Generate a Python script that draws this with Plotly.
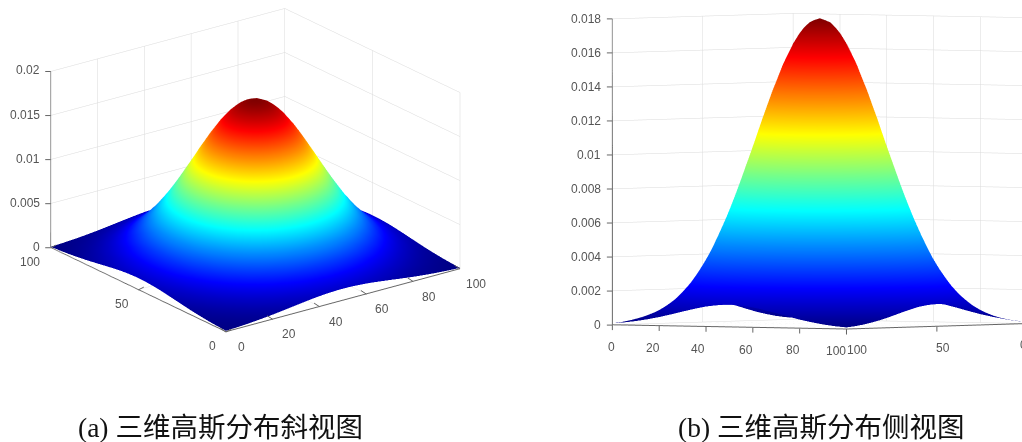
import plotly.graph_objects as go

# grid positions along both axes (finer around the peak)
axis_pos = [0, 5, 10, 15, 20, 25, 30, 35, 37.5, 40, 42.5, 45, 47.5, 50, 52.5, 55, 57.5, 60, 62.5, 65,
            70, 75, 80, 85, 90, 95, 100]

# one quadrant of the symmetric surface, in units of 0.00001;
# row/column 0 is the peak at (50, 50), the last is the rim
z_quadrant = [
 [1800,1788,1753,1697,1620,1527,1420,1181,932,698,496,334,214,130],
 [1788,1776,1742,1685,1610,1517,1411,1174,926,693,493,332,212,129],
 [1753,1742,1708,1652,1578,1487,1383,1151,908,680,483,325,208,126],
 [1697,1685,1652,1599,1527,1439,1339,1114,879,658,467,315,201,122],
 [1620,1610,1578,1527,1458,1374,1278,1063,839,628,446,301,192,117],
 [1527,1517,1487,1439,1374,1295,1205,1002,791,592,421,283,181,110],
 [1420,1411,1383,1339,1278,1205,1121,932,736,551,391,264,169,102],
 [1181,1174,1151,1114,1063,1002,932,775,612,458,325,219,140,85],
 [932,926,908,879,839,791,736,612,483,361,257,173,111,67],
 [698,693,680,658,628,592,551,458,361,271,192,130,83,50],
 [496,493,483,467,446,421,391,325,257,192,137,92,59,36],
 [334,332,325,315,301,283,264,219,173,130,92,62,40,24],
 [214,212,208,201,192,181,169,140,111,83,59,40,25,15],
 [130,129,126,122,117,110,102,85,67,50,36,24,15,9],
]
half_rows = [row[::-1] + row[1:] for row in z_quadrant]
z_values = [[v * 1e-5 for v in row] for row in half_rows[::-1] + half_rows[1:]]

left_x_ticks = [0, 20, 40, 60, 80, 100]
left_y_ticks = [0, 50, 100]
left_z_ticks = [0, 0.005, 0.01, 0.015, 0.02]
left_z_text = ["0", "0.005", "0.01", "0.015", "0.02"]
right_z_ticks = [0, 0.002, 0.004, 0.006, 0.008, 0.01, 0.012, 0.014, 0.016, 0.018]
right_z_text = ["0", "0.002", "0.004", "0.006", "0.008", "0.01", "0.012", "0.014", "0.016", "0.018"]
captions = ["(a) 三维高斯分布斜视图", "(b) 三维高斯分布侧视图"]

jet = [[0, "rgb(0,0,128)"], [0.125, "rgb(0,0,255)"], [0.375, "rgb(0,255,255)"],
       [0.625, "rgb(255,255,0)"], [0.875, "rgb(255,0,0)"], [1, "rgb(128,0,0)"]]

TICK = "#666666"
LABEL = dict(family="Liberation Sans", size=12, color="#555555")
W = 1040  # the page offsets the plot, so the canvas runs past the window's right edge


def surface(scene):
    return go.Surface(x=axis_pos, y=axis_pos, z=z_values, scene=scene, colorscale=jet,
                      cmin=0, cmax=0.018, showscale=False,
                      lighting=dict(ambient=1, diffuse=0, specular=0, roughness=1, fresnel=0),
                      hoverinfo="skip")


def axis(vals, rng):
    return dict(range=rng, tickmode="array", tickvals=vals, showticklabels=False,
                title=dict(text=""), showbackground=False, showgrid=True, gridcolor="#dadada", gridwidth=1,
                zeroline=False, showline=True, linecolor=TICK, linewidth=2, ticks="", showspikes=False)


def tick(x, y, z, text, dx, dy, tx, ty, anchor="center"):
    """A tick mark (tail offset tx, ty px) and its label (offset dx, dy px) at a scene point."""
    return [
        dict(x=x, y=y, z=z, text=" ", showarrow=True, arrowhead=0, arrowwidth=1, arrowcolor=TICK,
             standoff=0, ax=tx, ay=ty, font=dict(size=1), borderpad=0),
        dict(x=x, y=y, z=z, text=text, showarrow=False, xshift=dx, yshift=dy, xanchor=anchor,
             yanchor="middle", font=LABEL),
    ]


left_notes = []
for v in left_x_ticks:
    left_notes += tick(v, 0, 0, str(v), 16, -15, -6, -4)
for v, dx in zip(left_y_ticks, (-13, -16, -21)):
    left_notes += tick(0, v, 0, str(v), dx, -14, 6, -3)
for v, t in zip(left_z_ticks, left_z_text):
    left_notes += tick(0, 100, v, t, -9, 1, -6, 0, "right")

right_notes = []
for v, dx in zip(left_x_ticks, (-1, -6, -8, -7, -7, -10)):
    right_notes += tick(100, v, 0, str(v), dx, -22, 0, 6)
for v, dx in zip(left_y_ticks, (-4, 6, 11)):
    right_notes += tick(v, 100, 0, str(v), dx, -21, 0, 6)
for v, t in zip(right_z_ticks, right_z_text):
    right_notes += tick(100, 0, v, t, -9, 0, -6, 0, "right")

fig = go.Figure([surface("scene"), surface("scene2")])
fig.update_layout(
    width=W, height=442, margin=dict(l=0, r=0, t=0, b=0), paper_bgcolor="white", showlegend=False,
    scene=dict(
        domain=dict(x=[0, 511 / W], y=[0.23, 1]),
        xaxis=axis(left_x_ticks, [0, 100]), yaxis=axis(left_y_ticks, [0, 100]),
        zaxis=axis(left_z_ticks, [0, 0.02]),
        aspectmode="manual", aspectratio=dict(x=1.72, y=1.72, z=1.11),
        camera=dict(eye=dict(x=-0.662, y=-0.964, z=0.40), center=dict(x=0.038, y=-0.029, z=-0.05),
                    projection=dict(type="orthographic")),
        annotations=left_notes,
    ),
    scene2=dict(
        domain=dict(x=[524 / W, 1040 / W], y=[0.23, 1]),
        xaxis=axis(left_y_ticks, [0, 100]), yaxis=axis(left_x_ticks, [0, 100]),
        zaxis=axis(right_z_ticks, [0, 0.018]),
        aspectmode="manual", aspectratio=dict(x=1.74, y=1.74, z=1.80),
        camera=dict(eye=dict(x=1.292, y=0.776, z=-0.005), center=dict(x=0.107, y=-0.139, z=-0.04),
                    projection=dict(type="orthographic")),
        annotations=right_notes,
    ),
    annotations=[
        dict(text=captions[0], x=212 / W, y=1 - 419 / 442),
        dict(text=captions[1], x=813 / W, y=1 - 419 / 442),
    ],
)
for a in fig.layout.annotations:
    a.update(xref="paper", yref="paper", showarrow=False, xanchor="center", yanchor="middle",
             font=dict(family="Liberation Serif, Noto Sans CJK SC", size=27.5, color="#111111"))
fig.write_html("out.html", post_script="document.body.style.width='1060px';")
